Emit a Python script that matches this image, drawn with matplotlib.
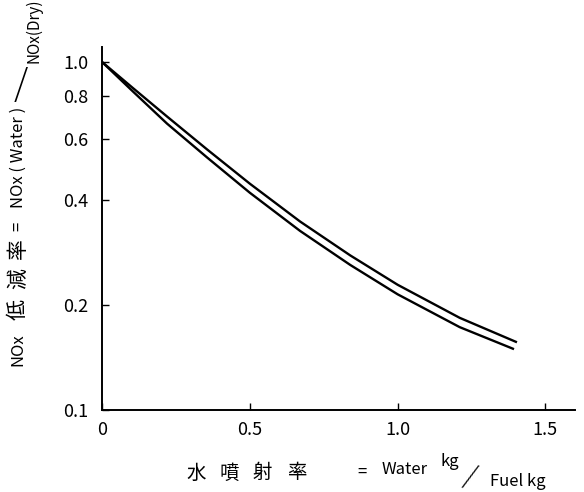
import matplotlib.pyplot as plt
from matplotlib.ticker import FixedLocator, NullLocator

plt.rcParams['font.family'] = ['Noto Sans CJK JP', 'DejaVu Sans']

# water injection ratio (kg water / kg fuel) and NOx reduction ratio
water_upper = [0, 0.105, 0.22, 0.355, 0.5, 0.67, 0.84, 1.0, 1.21, 1.4]
nox_upper = [1.0, 0.841, 0.697, 0.561, 0.447, 0.348, 0.278, 0.229, 0.184, 0.157]
water_lower = [0, 0.105, 0.22, 0.355, 0.5, 0.67, 0.84, 1.0, 1.21, 1.39]
nox_lower = [1.0, 0.822, 0.665, 0.532, 0.421, 0.327, 0.261, 0.215, 0.173, 0.150]

x_ticks = [0, 0.5, 1.0, 1.5]
x_tick_labels = ["0", "0.5", "1.0", "1.5"]
y_ticks = [0.1, 0.2, 0.4, 0.6, 0.8, 1.0]
y_tick_labels = ["0.1", "0.2", "0.4", "0.6", "0.8", "1.0"]

W, H = 584, 492
fig = plt.figure(figsize=(W / 100, H / 100), dpi=100)
ax = fig.add_axes([102 / W, 1 - 410 / H, 473 / W, 363 / H])

ax.plot(water_upper, nox_upper, color="black", lw=1.7, solid_joinstyle="round")
ax.plot(water_lower, nox_lower, color="black", lw=1.7, solid_joinstyle="round")

ax.set_yscale("log")
ax.set_xlim(0, 1.6)
ax.set_ylim(0.1, 1.104)
ax.xaxis.set_major_locator(FixedLocator(x_ticks))
ax.set_xticklabels(x_tick_labels)
ax.yaxis.set_major_locator(FixedLocator(y_ticks))
ax.yaxis.set_minor_locator(NullLocator())
ax.set_yticklabels(y_tick_labels)
ax.tick_params(direction="in", length=5, width=1, labelsize=13)
ax.tick_params(axis="y", pad=10)
ax.tick_params(axis="x", pad=8)

for side in ["top", "right"]:
    ax.spines[side].set_visible(False)
for side in ["left", "bottom"]:
    ax.spines[side].set_linewidth(1.4)


def px(x, y):
    return x / W, 1 - y / H


# y axis label: NOx reduction ratio = NOx(Water) / NOx(Dry)
fig.text(*px(18, 350), "NOx", rotation=90, ha="center", va="center", fontsize=12)
for y, ch in zip([310, 279, 249], "低減率"):
    fig.text(*px(18, y), ch, rotation=90, ha="center", va="center", fontsize=15)
fig.text(*px(18, 226), "=", rotation=90, ha="center", va="center", fontsize=12)
fig.text(*px(18, 157), "NOx ( Water )", rotation=90, ha="center", va="center", fontsize=12)
fig.text(*px(21, 85), "/", ha="center", va="center", fontsize=26, fontweight="light")
fig.text(*px(34, 63), "NOx(Dry)", rotation=90, ha="center", va="bottom", fontsize=11)

# x axis label: water injection ratio = Water kg / Fuel kg
for x, ch in zip([196, 229, 262, 297], "水噴射率"):
    fig.text(*px(x, 473), ch, ha="center", va="center", fontsize=14)
fig.text(*px(362, 472), "=", ha="center", va="center", fontsize=12)
fig.text(*px(405, 469), "Water", ha="center", va="center", fontsize=12)
fig.text(*px(450, 462), "kg", ha="center", va="center", fontsize=12)
fig.text(*px(470, 476), "/", ha="center", va="center", fontsize=20, rotation=-18,
         fontweight="light")
fig.text(*px(518, 482), "Fuel kg", ha="center", va="center", fontsize=12)

fig.savefig("out.png", dpi=100)
